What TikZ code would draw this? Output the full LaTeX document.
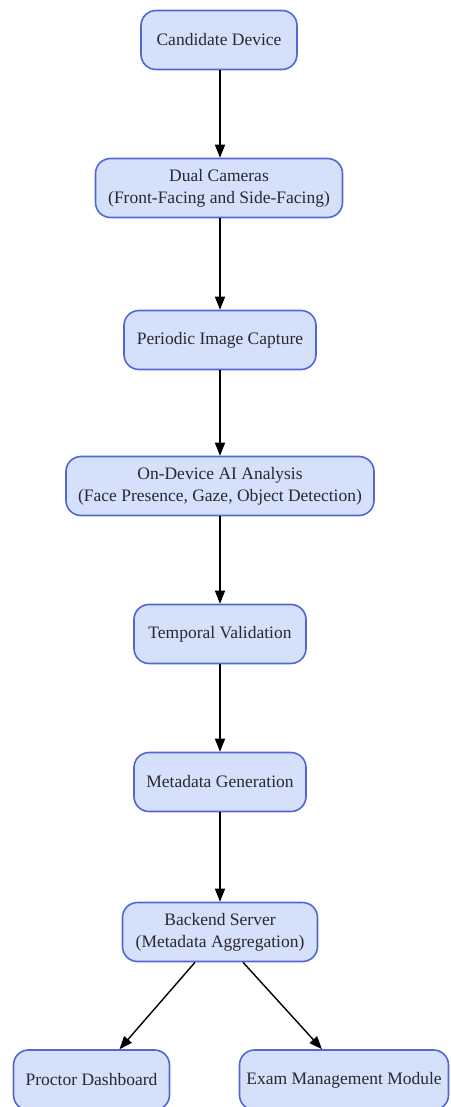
\documentclass[tikz,border=0pt]{standalone}
\usepackage{fontspec}
\setmainfont{Liberation Serif}
\usetikzlibrary{arrows.meta}
\definecolor{boxfill}{RGB}{213,224,250}
\definecolor{boxline}{RGB}{82,102,212}
\definecolor{boxtext}{RGB}{40,40,50}
\begin{document}
\begin{tikzpicture}[x=1pt, y=-1pt]
\tikzstyle{every node} = [font=\fontsize{17.5}{22}\selectfont, text=boxtext]
\tikzstyle{box} = [draw=boxline, line width=1.6pt, fill=boxfill, rounded corners=15pt, minimum height=59pt, inner sep=0pt, align=center]
\tikzstyle{flow} = [line width=1.4pt, -{Triangle[length=13pt, width=10pt]}]
\useasboundingbox (0,0) rectangle (450,1107);
\node[box, minimum width=156pt] (cd) at (219,40) {Candidate Device};
\node[box, minimum width=247pt] (dc) at (219,188) {Dual Cameras\\(Front-Facing and Side-Facing)};
\node[box, minimum width=192pt] (pic) at (220,340) {Periodic Image Capture};
\node[box, minimum width=308pt] (ai) at (220,486) {On-Device AI Analysis\\(Face Presence, Gaze, Object Detection)};
\node[box, minimum width=172pt] (tv) at (220,634) {Temporal Validation};
\node[box, minimum width=172pt] (mg) at (220,782) {Metadata Generation};
\node[box, minimum width=195pt] (bs) at (220,932) {Backend Server\\(Metadata Aggregation)};
\node[box, minimum width=156pt, minimum height=60pt] (pd) at (91.5,1080) {Proctor Dashboard};
\node[box, minimum width=209pt, minimum height=60pt] (em) at (344,1080) {Exam Management Module};
\draw[flow] ([xshift=1pt]cd.south) -- ([xshift=1pt]dc.north);
\draw[flow] ([xshift=1pt]dc.south) -- (pic.north);
\draw[flow] (pic) -- (ai);
\draw[flow] (ai) -- (tv);
\draw[flow] (tv) -- (mg);
\draw[flow] (mg) -- (bs);
\draw[flow] ([xshift=-25pt]bs.south) -- ([xshift=28pt]pd.north);
\draw[flow] ([xshift=23pt]bs.south) -- ([xshift=-22pt]em.north);
\end{tikzpicture}
\end{document}
